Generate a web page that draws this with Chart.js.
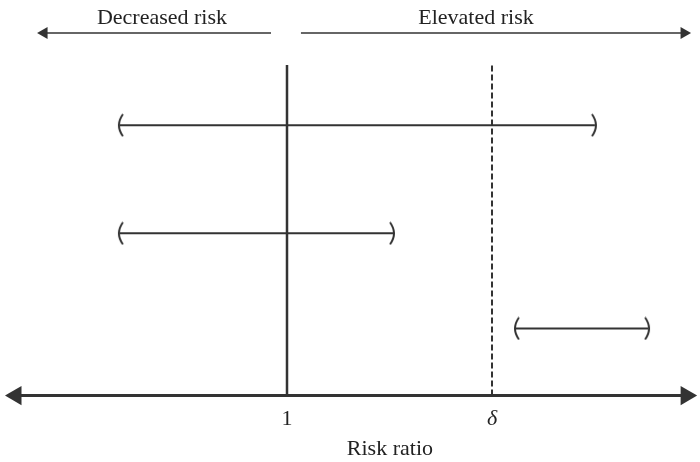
<!DOCTYPE html>
<html>
<head>
<meta charset="utf-8">
<script src="https://cdn.jsdelivr.net/npm/chart.js@4/dist/chart.umd.min.js"></script>
<style>
  html, body { margin: 0; padding: 0; background: #fff; }
  #wrap { width: 700px; height: 462px; }
</style>
</head>
<body>
<div id="wrap"><canvas id="chart"></canvas></div>
<script>
// ─── Data (x in risk-ratio units where 1 = no effect, 2 = δ; y = height above axis) ───
const NULL_VALUE = 1;
const DELTA_VALUE = 2;
const TICK_VALUES = [NULL_VALUE, DELTA_VALUE];
const TICK_LABELS = ['1', 'δ'];
const AXIS_TITLE = 'Risk ratio';
const AXIS_TITLE_X = 1.502;
const AXIS_TITLE_ROW = -54;

// confidence intervals: lower, upper, row height
const CI_LOWER = [0.185, 0.185, 2.117];
const CI_UPPER = [2.502, 1.517, 2.761];
const CI_ROW   = [270, 162, 67];

const REF_TOP = 330;                 // top of the reference lines
const AXIS_ENDS = [-0.322, 2.947];   // arrow axis, centres of the heads
const DIR_ROW = 362;                 // row of the direction arrows
const DIR_LEFT = [-0.185, 0.922];
const DIR_RIGHT = [1.068, 2.937];
const DIR_LABELS = ['Decreased risk', 'Elevated risk'];
const DIR_LABEL_X = [0.39, 1.922];
const DIR_LABEL_ROW = 377;

const INK = '#333';
const FONT = '"Liberation Serif", "DejaVu Serif", serif';
const FONT_SIZE = 22;

// ─── Paren point styles ───
function makeParen(left) {
  const c = document.createElement('canvas');
  c.width = 10; c.height = 24;
  const g = c.getContext('2d');
  g.strokeStyle = INK;
  g.lineWidth = 2;
  g.beginPath();
  if (left) { g.moveTo(8, 1); g.quadraticCurveTo(0, 12, 8, 23); }
  else      { g.moveTo(2, 1); g.quadraticCurveTo(10, 12, 2, 23); }
  g.stroke();
  return c;
}
const leftParen = makeParen(true);
const rightParen = makeParen(false);

const line = (x0, y0, x1, y1, extra) => Object.assign({
  type: 'line',
  data: [{ x: x0, y: y0 }, { x: x1, y: y1 }],
  borderColor: INK,
  backgroundColor: INK,
  pointRadius: 0,
  clip: false,
}, extra);

const datasets = [];

// reference lines
datasets.push(line(NULL_VALUE, 0, NULL_VALUE, REF_TOP, { borderWidth: 2.5 }));
datasets.push(line(DELTA_VALUE, 0, DELTA_VALUE, REF_TOP, { borderWidth: 2, borderDash: [6, 3] }));

// intervals
CI_LOWER.forEach((lo, i) => {
  datasets.push(line(lo, CI_ROW[i], CI_UPPER[i], CI_ROW[i], {
    borderWidth: 2,
    pointRadius: 10,
    pointStyle: [leftParen, rightParen],
  }));
});

// main axis with two heads
datasets.push(line(AXIS_ENDS[0], 0, AXIS_ENDS[1], 0, {
  borderWidth: 3,
  pointRadius: 11,
  pointStyle: 'triangle',
  rotation: [-90, 90],
  pointBorderWidth: 0,
}));

// direction arrows
datasets.push(line(DIR_LEFT[0], DIR_ROW, DIR_LEFT[1], DIR_ROW, {
  borderWidth: 1.5,
  pointRadius: [7, 0],
  pointStyle: 'triangle',
  rotation: -90,
  pointBorderWidth: 0,
}));
datasets.push(line(DIR_RIGHT[0], DIR_ROW, DIR_RIGHT[1], DIR_ROW, {
  borderWidth: 1.5,
  pointRadius: [0, 7],
  pointStyle: 'triangle',
  rotation: 90,
  pointBorderWidth: 0,
}));

// ─── Free text: direction labels + axis title ───
const freeText = {
  id: 'freeText',
  afterDatasetsDraw(chart) {
    const { ctx, scales: { x, y } } = chart;
    ctx.save();
    ctx.fillStyle = '#222';
    ctx.font = FONT_SIZE + 'px ' + FONT;
    ctx.textAlign = 'center';
    ctx.textBaseline = 'middle';
    DIR_LABELS.forEach((t, i) => {
      ctx.fillText(t, x.getPixelForValue(DIR_LABEL_X[i]), y.getPixelForValue(DIR_LABEL_ROW));
    });
    ctx.fillText(AXIS_TITLE, x.getPixelForValue(AXIS_TITLE_X), y.getPixelForValue(AXIS_TITLE_ROW));
    ctx.restore();
  },
};

new Chart(document.getElementById('chart'), {
  type: 'line',
  data: { datasets },
  options: {
    responsive: true,
    maintainAspectRatio: false,
    animation: false,
    events: [],
    layout: { autoPadding: false, padding: { left: 0, right: 0, top: 0, bottom: 20 } },
    plugins: { legend: { display: false }, tooltip: { enabled: false } },
    scales: {
      x: {
        type: 'linear',
        min: -0.4,
        max: 3.0146,
        grid: { display: false, drawTicks: false },
        border: { display: false },
        afterBuildTicks: s => { s.ticks = TICK_VALUES.map(v => ({ value: v })); },
        ticks: {
          padding: 10,
          color: '#222',
          font: c => ({ family: FONT, size: FONT_SIZE, style: c.tick && c.tick.value === DELTA_VALUE ? 'italic' : 'normal' }),
          callback: v => TICK_LABELS[TICK_VALUES.indexOf(v)],
        },
      },
      y: { type: 'linear', display: false, min: 0, max: 395 },
    },
  },
  plugins: [freeText],
});
</script>
</body>
</html>
